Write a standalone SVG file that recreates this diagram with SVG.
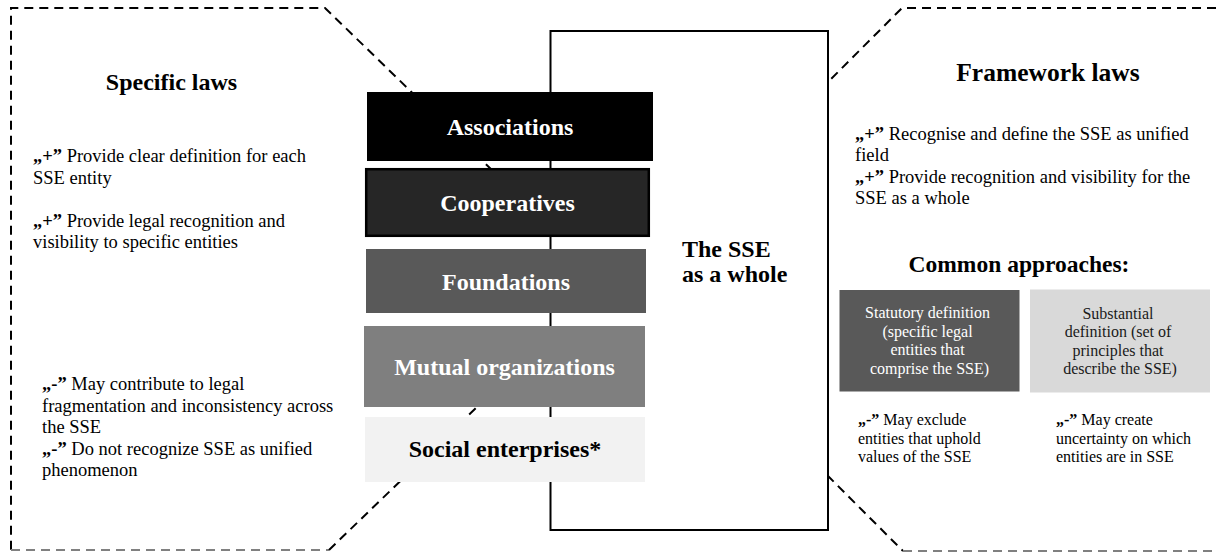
<svg xmlns="http://www.w3.org/2000/svg" width="1216" height="553" viewBox="0 0 1216 553">
<style>
text{font-family:"Liberation Serif","Times New Roman",serif;}
.dash{fill:none;stroke:#000;stroke-width:2;stroke-dasharray:9 6;}
.dashg{fill:none;stroke:#808080;stroke-width:2;stroke-dasharray:9 6;}
.lbl{font-size:24px;font-weight:bold;text-anchor:middle;fill:#fff;}
.head{font-weight:bold;text-anchor:middle;fill:#000;}
.body{font-size:18.5px;fill:#000;}
.small{font-size:16px;}
.b{font-weight:bold;}
</style>
<rect width="1216" height="553" fill="#fff"/>
<g id="connectors">
  <g id="left-panel-outline">
    <path class="dash" d="M600,275 L325,8 L11,8 L11,550"/>
    <path class="dashg" d="M11,550 L329,550"/>
    <path class="dash" d="M329,550 L600,288"/>
  </g>
  <g id="right-panel-outline">
    <path class="dash" d="M1216,8 L902,8 L700,210"/>
    <path class="dash" d="M700,348 L903,551"/>
    <path class="dashg" d="M903,551 L1216,551"/>
  </g>
</g>
<g id="sse-whole">
  <rect x="550.5" y="31" width="277.5" height="499" fill="#fff" stroke="#000" stroke-width="2"/>
  <text class="head" style="font-size:24px;text-anchor:start"><tspan x="682" y="256.5">The SSE</tspan><tspan x="682" y="282">as a whole</tspan></text>
</g>
<g id="associations">
  <rect x="367" y="92" width="286" height="69" fill="#000"/>
  <text class="lbl" x="510" y="135">Associations</text>
</g>
<g id="cooperatives">
  <rect x="366.2" y="169.2" width="282.6" height="66.6" fill="#262626" stroke="#000" stroke-width="2.5"/>
  <text class="lbl" x="507.5" y="211">Cooperatives</text>
</g>
<g id="foundations">
  <rect x="366" y="249" width="280" height="64" fill="#595959"/>
  <text class="lbl" x="506" y="289.5">Foundations</text>
</g>
<g id="mutual-organizations">
  <rect x="364" y="326" width="281" height="81" fill="#7f7f7f"/>
  <text class="lbl" x="504.5" y="374.5">Mutual organizations</text>
</g>
<g id="social-enterprises">
  <rect x="365" y="417" width="280" height="65" fill="#f2f2f2"/>
  <text class="lbl" x="505" y="456.5" style="fill:#000">Social enterprises*</text>
</g>
<g id="specific-laws">
  <text class="head" x="171.5" y="90" style="font-size:24px">Specific laws</text>
  <text class="body">
    <tspan x="33" y="162"><tspan class="b">„+”</tspan> Provide clear definition for each</tspan>
    <tspan x="33" y="183.5">SSE entity</tspan>
    <tspan x="33" y="226.5"><tspan class="b">„+”</tspan> Provide legal recognition and</tspan>
    <tspan x="33" y="248">visibility to specific entities</tspan>
  </text>
  <text class="body">
    <tspan x="42" y="390"><tspan class="b">„-”</tspan> May contribute to legal</tspan>
    <tspan x="42" y="411.5">fragmentation and inconsistency across</tspan>
    <tspan x="42" y="433">the SSE</tspan>
    <tspan x="42" y="454.5"><tspan class="b">„-”</tspan> Do not recognize SSE as unified</tspan>
    <tspan x="42" y="476">phenomenon</tspan>
  </text>
</g>
<g id="framework-laws">
  <text class="head" x="1048" y="81" style="font-size:25.5px">Framework laws</text>
  <text class="body">
    <tspan x="855" y="139.5"><tspan class="b">„+”</tspan> Recognise and define the SSE as unified</tspan>
    <tspan x="855" y="161">field</tspan>
    <tspan x="855" y="182.5"><tspan class="b">„+”</tspan> Provide recognition and visibility for the</tspan>
    <tspan x="855" y="204">SSE as a whole</tspan>
  </text>
  <text class="head" x="1019" y="272" style="font-size:23.5px">Common approaches:</text>
</g>
<g id="statutory-definition">
  <rect x="839.5" y="290" width="180" height="101.5" fill="#595959"/>
  <text class="small" text-anchor="middle" fill="#fff">
    <tspan x="929.5" y="318">Statutory definition</tspan>
    <tspan x="929.5" y="336.5">(specific legal</tspan>
    <tspan x="929.5" y="355">entities that</tspan>
    <tspan x="929.5" y="373.5">comprise the SSE)</tspan>
  </text>
  <text class="small" fill="#000">
    <tspan x="858" y="425"><tspan class="b">„-”</tspan> May exclude</tspan>
    <tspan x="858" y="443.5">entities that uphold</tspan>
    <tspan x="858" y="462">values of the SSE</tspan>
  </text>
</g>
<g id="substantial-definition">
  <rect x="1030" y="289.5" width="180" height="103" fill="#d9d9d9"/>
  <text class="small" text-anchor="middle" fill="#1a1a1a">
    <tspan x="1120" y="318.5">Substantial</tspan>
    <tspan x="1120" y="337">definition (set of</tspan>
    <tspan x="1120" y="355.5">principles that</tspan>
    <tspan x="1120" y="374">describe the SSE)</tspan>
  </text>
  <text class="small" fill="#000">
    <tspan x="1056" y="425"><tspan class="b">„-”</tspan> May create</tspan>
    <tspan x="1056" y="443.5">uncertainty on which</tspan>
    <tspan x="1056" y="462">entities are in SSE</tspan>
  </text>
</g>
</svg>
